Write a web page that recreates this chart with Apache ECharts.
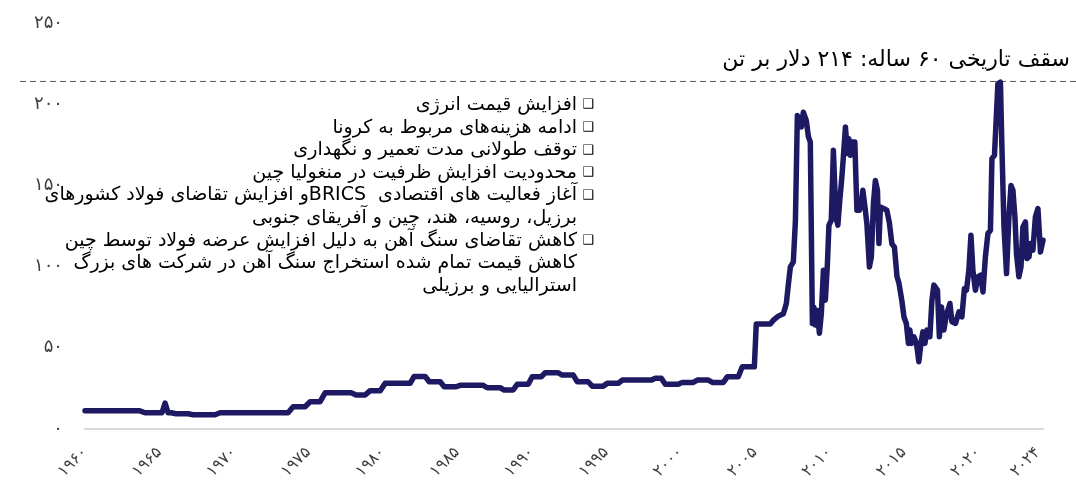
<!DOCTYPE html>
<html>
<head>
<meta charset="utf-8">
<script src="https://cdn.jsdelivr.net/npm/echarts@6/dist/echarts.min.js"></script>
<style>
html,body{margin:0;padding:0;background:#fff;}
#chart{width:1076px;height:485px;direction:rtl;}
</style>
</head>
<body>
<div id="chart"></div>
<script>
// Iron ore price (USD per tonne)
const years = [
1960.00,1963.63,1964.03,1965.17,1965.38,1965.58,1965.78,1966.12,1966.92,1967.26,1968.74,1969.07,
1973.64,1973.98,1974.78,1975.12,1975.79,1976.13,1977.88,1978.21,1978.82,1979.15,1979.83,1980.16,
1981.84,1982.11,1982.85,1983.12,1983.86,1984.13,1984.93,1985.20,1986.75,1987.02,1987.89,1988.16,
1988.76,1989.03,1989.77,1990.04,1990.65,1990.91,1991.79,1992.06,1992.80,1993.06,1993.80,1994.07,
1994.81,1995.08,1995.82,1996.09,1998.04,1998.31,1998.71,1998.98,1999.85,2000.12,2000.86,2001.13,
2001.87,2002.14,2002.88,2003.15,2003.88,2004.15,2004.96,2005.09,2006.03,2006.24,2006.57,2006.91,
2007.11,2007.24,2007.38,2007.58,2007.72,2007.85,2007.98,2008.12,2008.25,2008.45,2008.59,2008.72,
2008.86,2008.96,2009.06,2009.19,2009.33,2009.46,2009.60,2009.73,2009.87,2009.97,2010.13,2010.27,
2010.44,2010.57,2010.70,2010.84,2010.94,2011.08,2011.21,2011.31,2011.41,2011.55,2011.71,2011.85,
2012.02,2012.15,2012.25,2012.39,2012.52,2012.69,2012.82,2012.96,2013.09,2013.23,2013.33,2013.43,
2013.66,2013.86,2014.03,2014.20,2014.37,2014.54,2014.67,2014.87,2015.01,2015.17,2015.31,2015.41,
2015.51,2015.68,2015.85,2016.01,2016.15,2016.28,2016.42,2016.55,2016.75,2016.89,2017.02,2017.12,
2017.26,2017.39,2017.53,2017.69,2017.86,2018.10,2018.23,2018.47,2018.70,2018.90,2019.07,2019.21,
2019.37,2019.51,2019.64,2019.81,2019.98,2020.15,2020.32,2020.48,2020.65,2020.82,2020.92,2021.09,
2021.22,2021.32,2021.49,2021.59,2021.73,2021.90,2022.06,2022.20,2022.33,2022.47,2022.57,2022.73,
2022.87,2023.00,2023.17,2023.27,2023.41,2023.51,2023.67,2023.84,2024.01,2024.18,2024.35
];
const prices = [
11.3,11.3,10.0,10.0,16.0,10.0,10.0,9.4,9.4,8.8,8.8,10.0,
10.0,13.7,13.7,16.8,16.8,22.3,22.3,20.9,20.9,23.6,23.6,28.1,
28.1,32.4,32.4,29.1,29.1,26.0,26.0,26.9,26.9,25.4,25.4,24.0,
24.0,27.5,27.5,32.2,32.2,34.6,34.6,33.2,33.2,29.1,29.1,26.4,
26.4,28.1,28.1,30.1,30.1,31.2,31.2,27.5,27.5,28.7,28.7,30.1,
30.1,28.7,28.7,32.2,32.2,38.3,38.3,64.6,64.6,67.0,69.5,71.0,
77.3,88.6,99.8,102.9,128.5,193.0,194.0,186.0,195.0,190.0,180.0,176.7,
65.0,75.0,64.0,73.0,58.9,71.0,97.8,79.3,101.9,125.5,128.5,171.6,
130.6,125.5,140.8,155.2,167.5,186.0,169.6,178.8,168.5,176.7,176.7,134.7,
134.7,138.8,147.0,136.7,126.5,99.8,106.0,138.8,153.0,147.0,114.2,136.7,
135.7,134.7,127.0,114.0,112.0,94.0,90.0,79.0,69.0,65.0,52.7,60.9,
52.7,56.8,52.7,41.4,52.7,59.8,52.7,60.9,56.8,79.3,88.6,88.6,
85.5,56.8,75.2,60.9,70.1,77.3,66.0,65.0,72.1,69.0,86.5,85.5,
97.8,119.3,97.8,85.5,93.7,94.7,84.4,106.0,120.4,122.4,166.5,168.5,
169.6,212.6,213.6,173.6,124.4,95.7,130.6,150.0,147.0,129.6,108.0,93.7,
99.8,124.4,127.5,105.0,106.0,114.2,110.1,130.6,135.7,109.0,116.2
];
const xTickYears = [1960,1965,1970,1975,1980,1985,1990,1995,2000,2005,2010,2015,2020,2024];
const yTicks = [0,50,100,150,200,250];
const recordHigh = 214;
const recordLabel = 'سقف تاریخی ۶۰ ساله: ۲۱۴ دلار بر تن';
const bulletItems = [
  ['افزایش قیمت انرژی'],
  ['ادامه هزینه‌های مربوط به کرونا'],
  ['توقف طولانی مدت تعمیر و نگهداری'],
  ['محدودیت افزایش ظرفیت در منغولیا چین'],
  ['آغاز فعالیت های اقتصادی  BRICSو افزایش تقاضای فولاد کشورهای','برزیل، روسیه، هند، چین و آفریقای جنوبی'],
  ['کاهش تقاضای سنگ آهن به دلیل افزایش عرضه فولاد توسط چین','کاهش قیمت تمام شده استخراج سنگ آهن در شرکت های بزرگ','استرالیایی و برزیلی']
];

const FONT = '"DejaVu Sans", sans-serif';
function fa(v){ return String(v).replace(/\d/g, d => '۰۱۲۳۴۵۶۷۸۹'[+d]); }

const seriesData = years.map((y,i) => [y, prices[i]]);

const chart = echarts.init(document.getElementById('chart'), null, {renderer:'canvas'});
chart.setOption({
  animation:false,
  backgroundColor:'#fff',
  grid:{left:85,right:33,top:23,bottom:56,containLabel:false,outerBoundsMode:'none'},
  xAxis:{
    type:'value', min:1960, max:years[years.length-1],
    axisLine:{show:true,lineStyle:{color:'#d9d9d9',width:2}},
    axisTick:{show:false},
    splitLine:{show:false},
    axisLabel:{
      customValues:xTickYears, rotate:45, margin:21,
      color:'#404040', fontSize:16, fontFamily:FONT,
      formatter:v => fa(v)
    }
  },
  yAxis:{
    type:'value', min:0, max:250, interval:50,
    axisLine:{show:false}, axisTick:{show:false}, splitLine:{show:false},
    axisLabel:{margin:22,color:'#404040',fontSize:18,fontFamily:FONT,formatter:v => fa(v)}
  },
  series:[{
    type:'line', data:seriesData, showSymbol:false, symbol:'none',
    lineStyle:{color:'#1d1a63',width:5.5,cap:'round',join:'round'},
    z:3
  }]
});

// decorations positioned through the library's scale
const yRec = chart.convertToPixel({yAxisIndex:0}, recordHigh);
const graphics = [
  {type:'line', shape:{x1:20,y1:yRec,x2:1076,y2:yRec}, style:{stroke:'#555',lineWidth:1,lineDash:[6,4]}, z:1},
  {type:'text', x:1070, y:yRec-21, style:{text:recordLabel, font:'22px '+FONT, fill:'#000', align:'right', verticalAlign:'middle'}, z:5}
];
let lineY = 105;
const lh = 22.6;
bulletItems.forEach(item => {
  graphics.push({type:'text', x:588, y:lineY, style:{text:'❑', font:'bold 13px '+FONT, fill:'#000', align:'center', verticalAlign:'middle'}, z:5});
  item.forEach(t => {
    graphics.push({type:'text', x:577, y:lineY, style:{text:t, font:'19px '+FONT, fill:'#000', align:'right', verticalAlign:'middle'}, z:5});
    lineY += lh;
  });
});
chart.setOption({graphic:graphics});
</script>
</body>
</html>
